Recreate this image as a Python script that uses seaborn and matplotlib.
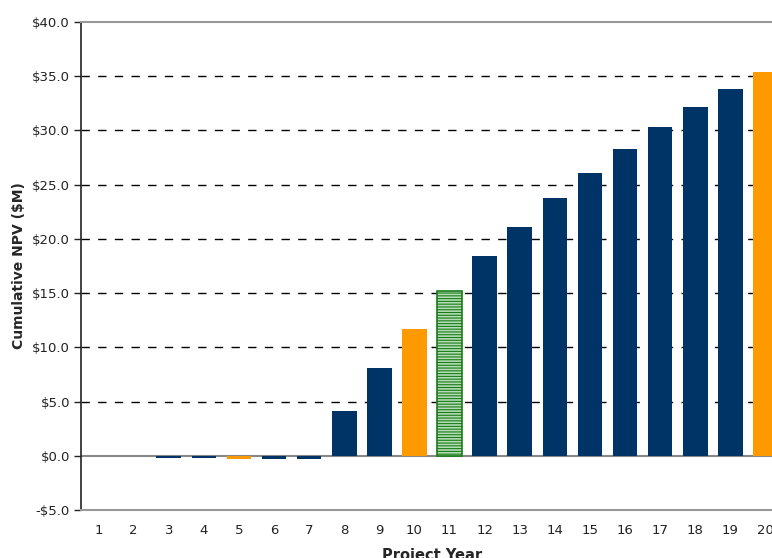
import matplotlib
matplotlib.use("Agg")
import matplotlib.pyplot as plt
import seaborn as sns
import pandas as pd

years = list(range(1, 21))
npv = [0.0, 0.0, -0.2, -0.2, -0.3, -0.3, -0.3, 4.1, 8.1, 11.7,
       15.2, 18.4, 21.1, 23.8, 26.1, 28.3, 30.35, 32.2, 33.8, 35.4]
kind = ["base"] * 20
for i in (4, 9, 19):
    kind[i] = "milestone"
kind[10] = "payback"

palette = {"base": "#003366", "milestone": "#FF9900", "payback": "#B2DDB2"}

df = pd.DataFrame({"year": [str(y) for y in years], "npv": npv, "kind": kind})

sns.set_style("white")
plt.rcParams["font.family"] = ["DejaVu Sans"]
plt.rcParams["hatch.color"] = "#66B066"
plt.rcParams["hatch.linewidth"] = 0.8

fig = plt.figure(figsize=(7.72, 5.58), dpi=100)
ax = fig.add_axes([81 / 772, 48 / 558, 702 / 772, 488 / 558])

sns.barplot(data=df, x="year", y="npv", hue="kind", palette=palette,
            dodge=False, width=0.7, legend=False, ax=ax, saturation=1, zorder=3)

for patch in ax.patches:
    patch.set_linewidth(0)
# payback year bar: hatched green
for p in ax.patches:
    if abs(p.get_height() - 15.2) < 1e-6:
        p.set_hatch("------")
        p.set_edgecolor("#1a7a1a")
        p.set_linewidth(1.2)

ax.set_xlim(-0.5, 19.5)
ax.set_ylim(-5, 40)
ax.set_yticks(range(-5, 41, 5))
ax.set_yticklabels([("-$%.1f" % abs(v)) if v < 0 else "$%.1f" % v for v in range(-5, 41, 5)],
                   fontsize=9.5, color="#222222")
ax.tick_params(axis="x", length=0, labelsize=9.5, labelcolor="#222222", pad=10)
ax.tick_params(axis="y", length=5, width=1, direction="out", color="#222222", pad=3, left=True)

for v in range(5, 40, 5):
    ax.axhline(v, color="black", linestyle=(0, (6, 6)), linewidth=1, zorder=0)
ax.axhline(0, color="#888888", linewidth=1.5, zorder=2)

for s in ("top", "bottom", "right"):
    ax.spines[s].set_color("#999999")
    ax.spines[s].set_linewidth(1.5)
ax.spines["left"].set_color("#222222")
ax.spines["left"].set_linewidth(1.2)

ax.set_xlabel("Project Year", fontsize=10.5, fontweight="bold", labelpad=8)
ax.set_ylabel("Cumulative NPV ($M)", fontsize=10, fontweight="bold", labelpad=4)

fig.savefig("out.png", dpi=100)
